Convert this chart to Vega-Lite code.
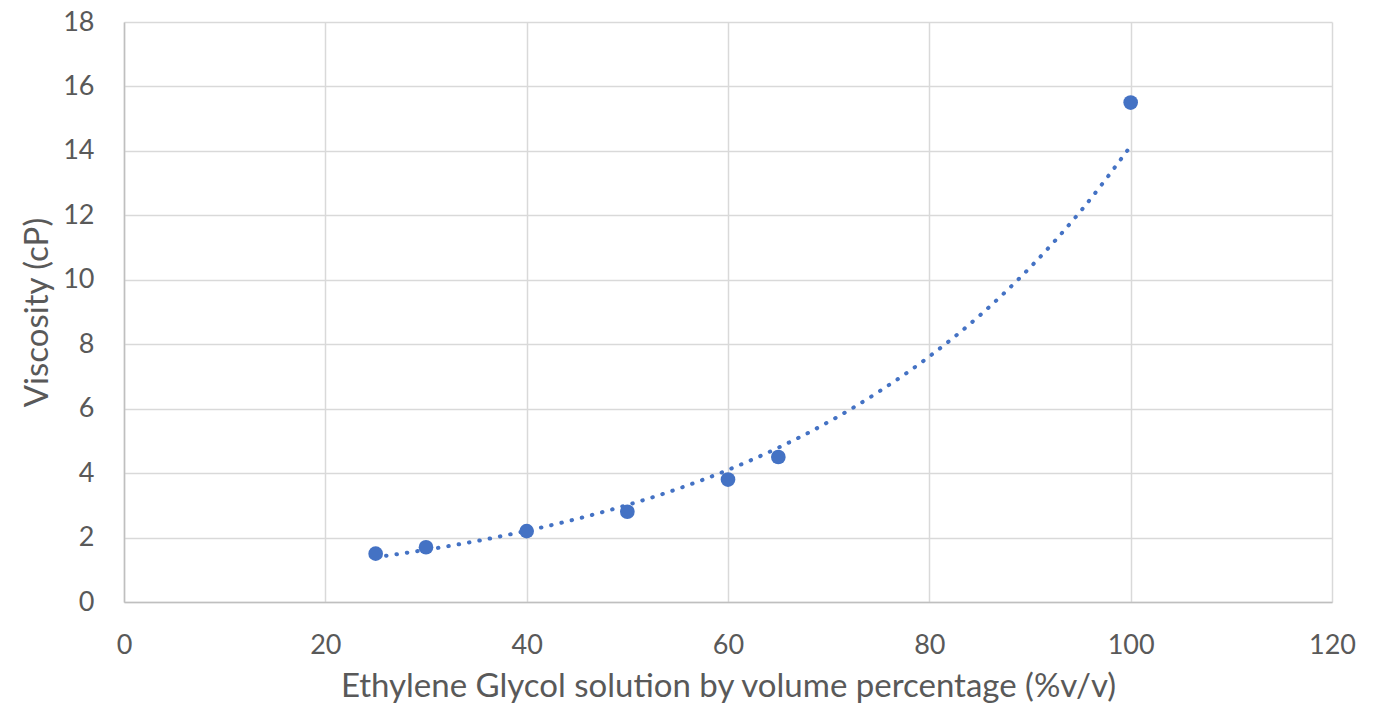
{
  "$schema": "https://vega.github.io/schema/vega-lite/v6.json",
  "width": 1208,
  "height": 580,
  "autosize": {"type": "none"},
  "padding": {"left": 124, "top": 22, "right": 53, "bottom": 109},
  "background": "white",
  "config": {
    "view": {"stroke": null},
    "font": "Lato",
    "axis": {
      "gridColor": "#d9d9d9",
      "gridWidth": 1.5,
      "domainColor": "#bfbfbf",
      "domainWidth": 1.5,
      "ticks": false,
      "tickSize": 0,
      "labelFlush": false,
      "labelFont": "Lato",
      "labelFontSize": 27,
      "labelColor": "#595959",
      "titleFont": "Lato",
      "titleFontSize": 33,
      "titleFontWeight": "normal",
      "titleColor": "#595959"
    }
  },
  "datasets": {
    "measured": [
      {"pct": 25, "viscosity": 1.5},
      {"pct": 30, "viscosity": 1.7},
      {"pct": 40, "viscosity": 2.2},
      {"pct": 50, "viscosity": 2.8},
      {"pct": 60, "viscosity": 3.8},
      {"pct": 65, "viscosity": 4.5},
      {"pct": 100, "viscosity": 15.5}
    ],
    "trend": [
      {"pct": 25, "viscosity": 1.39},
      {"pct": 30, "viscosity": 1.62},
      {"pct": 35, "viscosity": 1.89},
      {"pct": 40, "viscosity": 2.21},
      {"pct": 45, "viscosity": 2.58},
      {"pct": 50, "viscosity": 3.01},
      {"pct": 55, "viscosity": 3.51},
      {"pct": 60, "viscosity": 4.10},
      {"pct": 65, "viscosity": 4.79},
      {"pct": 70, "viscosity": 5.59},
      {"pct": 75, "viscosity": 6.53},
      {"pct": 80, "viscosity": 7.62},
      {"pct": 85, "viscosity": 8.89},
      {"pct": 90, "viscosity": 10.38},
      {"pct": 95, "viscosity": 12.12},
      {"pct": 100, "viscosity": 14.15}
    ]
  },
  "encoding": {
    "x": {
      "field": "pct",
      "type": "quantitative",
      "scale": {"domain": [0, 120], "nice": false, "zero": false},
      "axis": {
        "values": [0, 20, 40, 60, 80, 100, 120],
        "title": "Ethylene Glycol solution by volume percentage (%v/v)",
        "labelPadding": 30,
        "titlePadding": 12
      }
    },
    "y": {
      "field": "viscosity",
      "type": "quantitative",
      "scale": {"domain": [0, 18], "nice": false},
      "axis": {
        "values": [0, 2, 4, 6, 8, 10, 12, 14, 16, 18],
        "title": "Viscosity (cP)",
        "labelPadding": 30,
        "titlePadding": 8
      }
    }
  },
  "layer": [
    {
      "data": {"name": "trend"},
      "mark": {
        "type": "line",
        "interpolate": "monotone",
        "color": "#4472C4",
        "strokeWidth": 4,
        "strokeCap": "round",
        "strokeDash": [0.5, 10]
      }
    },
    {
      "data": {"name": "measured"},
      "mark": {"type": "circle", "color": "#4472C4", "opacity": 1, "size": 215}
    }
  ]
}
